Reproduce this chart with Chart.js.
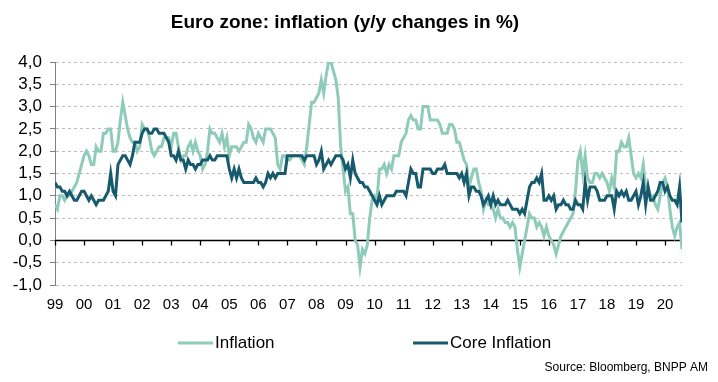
<!DOCTYPE html>
<html>
<head>
<meta charset="utf-8">
<title>Euro zone: inflation</title>
<script src="https://cdn.jsdelivr.net/npm/chart.js@4.4.0/dist/chart.umd.min.js"></script>
<style>
    html, body { margin: 0; padding: 0; background: #fff; }
    #wrap { width: 718px; height: 382px; }
</style>
</head>
<body>
<div id="wrap"><canvas id="inflationChart" width="718" height="382"></canvas></div>
<script>
// Year labels shown under the axis, one per January (monthly data from Jan 1999 to Aug 2020)
const yearLabels = ['99', '00', '01', '02', '03', '04', '05', '06', '07', '08', '09',
    '10', '11', '12', '13', '14', '15', '16', '17', '18', '19', '20'];

// Headline HICP, y/y %, one row per year
const inflation = [
    0.8, 0.7, 1.0, 1.0, 0.9, 1.0, 1.0, 1.1, 1.2, 1.3, 1.5, 1.7,
    1.9, 2.0, 1.9, 1.7, 1.7, 2.1, 2.0, 2.0, 2.4, 2.4, 2.5, 2.5,
    2.0, 2.0, 2.2, 2.7, 3.1, 2.8, 2.5, 2.3, 2.2, 2.2, 2.0, 2.1,
    2.6, 2.5, 2.5, 2.3, 2.0, 1.9, 2.0, 2.1, 2.1, 2.3, 2.3, 2.3,
    2.1, 2.4, 2.4, 2.1, 1.8, 1.9, 1.9, 2.1, 2.2, 2.0, 2.2, 2.0,
    1.9, 1.6, 1.7, 2.0, 2.5, 2.4, 2.4, 2.3, 2.2, 2.4, 2.1, 2.3,
    1.9, 2.1, 2.1, 2.1, 2.0, 2.1, 2.2, 2.2, 2.6, 2.5, 2.3, 2.2,
    2.4, 2.3, 2.2, 2.5, 2.5, 2.5, 2.4, 2.3, 1.7, 1.6, 1.9, 1.9,
    1.8, 1.8, 1.9, 1.9, 1.9, 1.9, 1.8, 1.7, 2.1, 2.6, 3.1, 3.1,
    3.2, 3.3, 3.6, 3.3, 3.7, 4.0, 4.0, 3.8, 3.6, 3.2, 2.1, 1.6,
    1.1, 1.2, 0.6, 0.6, 0.0, -0.1, -0.6, -0.2, -0.3, -0.1, 0.5, 0.9,
    1.0, 0.9, 1.6, 1.6, 1.7, 1.5, 1.7, 1.6, 1.9, 1.9, 1.9, 2.2,
    2.3, 2.4, 2.7, 2.8, 2.7, 2.7, 2.5, 2.5, 3.0, 3.0, 3.0, 2.7,
    2.7, 2.7, 2.7, 2.6, 2.4, 2.4, 2.4, 2.6, 2.6, 2.5, 2.2, 2.2,
    2.0, 1.8, 1.7, 1.2, 1.4, 1.6, 1.6, 1.3, 1.1, 0.7, 0.9, 0.8,
    0.8, 0.7, 0.5, 0.7, 0.5, 0.5, 0.4, 0.4, 0.3, 0.4, 0.3, -0.2,
    -0.6, -0.3, 0.0, 0.3, 0.6, 0.5, 0.5, 0.3, 0.4, 0.3, 0.1, 0.3,
    0.1, 0.0, -0.1, -0.3, -0.1, 0.1, 0.2, 0.3, 0.4, 0.5, 0.6, 1.1,
    1.8, 2.0, 1.5, 1.9, 1.4, 1.3, 1.3, 1.5, 1.5, 1.4, 1.5, 1.4,
    1.3, 1.1, 1.4, 1.2, 2.0, 2.0, 2.2, 2.1, 2.1, 2.3, 1.9, 1.5,
    1.4, 1.5, 1.4, 1.7, 1.2, 1.2, 1.0, 1.0, 0.8, 0.7, 1.0, 1.3,
    1.4, 1.2, 0.7, 0.3, 0.1, 0.3, 0.4, -0.2
];

// Core inflation, y/y %, one row per year
const coreInflation = [
    1.3, 1.2, 1.2, 1.1, 1.1, 1.0, 1.1, 1.0, 0.9, 0.9, 1.0, 1.1,
    1.1, 1.0, 0.9, 1.0, 0.9, 0.8, 0.9, 0.9, 0.9, 1.0, 1.1, 1.5,
    1.1, 1.0, 1.7, 1.8, 1.9, 1.9, 1.8, 1.7, 1.9, 2.2, 2.2, 2.2,
    2.4, 2.5, 2.5, 2.4, 2.4, 2.5, 2.5, 2.4, 2.4, 2.4, 2.3, 2.2,
    1.9, 1.9, 1.8, 2.0, 1.8, 1.8, 1.6, 1.8, 1.7, 1.7, 1.6, 1.7,
    1.7, 1.8, 1.8, 1.8, 1.9, 1.8, 1.8, 1.9, 1.9, 1.9, 1.9, 1.9,
    1.6, 1.4, 1.6, 1.4, 1.6, 1.4, 1.3, 1.3, 1.3, 1.3, 1.3, 1.4,
    1.3, 1.3, 1.2, 1.3, 1.5, 1.4, 1.5, 1.4, 1.5, 1.5, 1.5, 1.5,
    1.9, 1.9, 1.9, 1.9, 1.9, 1.9, 1.9, 1.8, 1.9, 1.9, 1.9, 1.9,
    1.7, 1.8, 2.0, 1.6, 1.7, 1.8, 1.7, 1.8, 1.9, 1.9, 1.9, 1.8,
    1.6, 1.7, 1.4, 1.8, 1.5, 1.4, 1.3, 1.3, 1.2, 1.2, 1.1, 1.0,
    0.9, 0.8, 1.0, 0.8, 0.9, 1.0, 1.0, 1.0, 1.0, 1.1, 1.1, 1.1,
    1.1, 1.0, 1.3, 1.6, 1.5, 1.5, 1.2, 1.2, 1.6, 1.6, 1.6, 1.6,
    1.5, 1.5, 1.6, 1.6, 1.6, 1.7, 1.5, 1.5, 1.5, 1.5, 1.5, 1.4,
    1.5, 1.3, 1.5, 1.0, 1.2, 1.2, 1.1, 1.1, 1.0, 0.8, 0.9, 1.0,
    0.8, 1.0, 0.8, 0.9, 0.8, 0.8, 0.8, 0.9, 0.8, 0.7, 0.7, 0.7,
    0.6, 0.7, 0.6, 0.9, 1.2, 1.3, 1.3, 1.4, 1.3, 1.5, 0.9, 0.9,
    1.0, 0.9, 1.0, 0.7, 0.8, 0.8, 0.9, 0.8, 0.8, 0.7, 0.7, 0.9,
    0.8, 0.8, 0.7, 1.3, 0.9, 1.2, 1.2, 1.2, 1.1, 0.9, 0.9, 0.9,
    1.0, 1.0, 1.0, 0.7, 1.1, 1.0, 1.1, 1.0, 1.1, 0.9, 0.9, 1.0,
    1.1, 0.8, 1.0, 1.3, 0.8, 1.2, 0.9, 0.9, 1.0, 1.1, 1.3, 1.3,
    1.1, 1.2, 1.0, 0.9, 0.9, 0.8, 1.2, 0.4
];

const yMin = -1.0;
const yMax = 4.0;
const yStep = 0.5;

const COLOR_INFLATION = '#8ecbb8';
const COLOR_CORE = '#175a6e';
const FONT = "'Liberation Sans', Arial, sans-serif";

function toPoints(values) {
    return values.map((v, i) => ({ x: i, y: v }));
}

// Zero line with year tick marks, drawn like the original axis
const zeroAxisPlugin = {
    id: 'zeroAxis',
    beforeDatasetsDraw(chart) {
        const { ctx, chartArea, scales } = chart;
        const y0 = Math.round(scales.y.getPixelForValue(0)) + 0.5;
        ctx.save();
        ctx.strokeStyle = '#000';
        ctx.lineWidth = 1.3;
        ctx.beginPath();
        ctx.moveTo(chartArea.left, y0);
        ctx.lineTo(chartArea.right, y0);
        yearLabels.forEach((label, i) => {
            const x = Math.round(scales.x.getPixelForValue(i * 12)) + 0.5;
            ctx.moveTo(x, y0);
            ctx.lineTo(x, y0 + 5);
        });
        ctx.stroke();
        ctx.restore();
    }
};

// Title, legend and source note
const notesPlugin = {
    id: 'notes',
    afterDraw(chart) {
        const { ctx } = chart;
        ctx.save();
        ctx.fillStyle = '#000';
        ctx.textBaseline = 'middle';

        ctx.font = 'bold 19px ' + FONT;
        ctx.textAlign = 'center';
        ctx.fillText('Euro zone: inflation (y/y changes in %)', 345, 23);

        const legendPos = [178, 413];
        ctx.font = '17px ' + FONT;
        ctx.textAlign = 'left';
        chart.data.datasets.forEach((ds, i) => {
            const x = legendPos[i];
            ctx.strokeStyle = ds.borderColor;
            ctx.lineWidth = 3;
            ctx.beginPath();
            ctx.moveTo(x, 343);
            ctx.lineTo(x + 35, 343);
            ctx.stroke();
            ctx.fillText(ds.label, x + 37, 343);
        });

        ctx.font = '12px ' + FONT;
        ctx.textAlign = 'right';
        ctx.fillText('Source: Bloomberg, BNPP AM', 708, 368);
        ctx.restore();
    }
};

new Chart(document.getElementById('inflationChart'), {
    type: 'line',
    data: {
        datasets: [
            {
                label: 'Inflation',
                data: toPoints(inflation),
                borderColor: COLOR_INFLATION,
                backgroundColor: COLOR_INFLATION,
                borderWidth: 3,
                pointRadius: 0,
                tension: 0,
                order: 2
            },
            {
                label: 'Core Inflation',
                data: toPoints(coreInflation),
                borderColor: COLOR_CORE,
                backgroundColor: COLOR_CORE,
                borderWidth: 3,
                pointRadius: 0,
                tension: 0,
                order: 1
            }
        ]
    },
    options: {
        responsive: false,
        animation: false,
        devicePixelRatio: 1,
        layout: { padding: { top: 62, right: 36, bottom: 57, left: 0 } },
        plugins: {
            legend: { display: false },
            title: { display: false },
            tooltip: { enabled: false }
        },
        scales: {
            x: {
                type: 'linear',
                min: 0,
                max: inflation.length - 1,
                grid: { display: false, drawTicks: false },
                border: { display: false },
                afterBuildTicks: function(scale) {
                    scale.ticks = yearLabels.map((l, i) => ({ value: i * 12 }));
                },
                ticks: {
                    autoSkip: false,
                    maxRotation: 0,
                    padding: 11,
                    color: '#000',
                    font: { family: FONT, size: 15 },
                    callback: function(value) { return yearLabels[Math.round(value / 12)]; }
                }
            },
            y: {
                min: yMin,
                max: yMax,
                afterFit: function(scale) { scale.width = 55; },
                grid: {
                    color: function(ctx) {
                        return ctx.tick && ctx.tick.value === 0 ? 'rgba(0,0,0,0)' : '#bfbfbf';
                    },
                    tickColor: '#808080',
                    tickLength: 5,
                    tickBorderDash: [],
                    lineWidth: 1
                },
                border: { color: '#808080', width: 1, dash: [3, 3] },
                ticks: {
                    stepSize: yStep,
                    autoSkip: false,
                    padding: 8,
                    color: '#000',
                    font: { family: FONT, size: 17 },
                    callback: function(value) { return value.toFixed(1).replace('.', ','); }
                }
            }
        }
    },
    plugins: [zeroAxisPlugin, notesPlugin]
});
</script>
</body>
</html>
